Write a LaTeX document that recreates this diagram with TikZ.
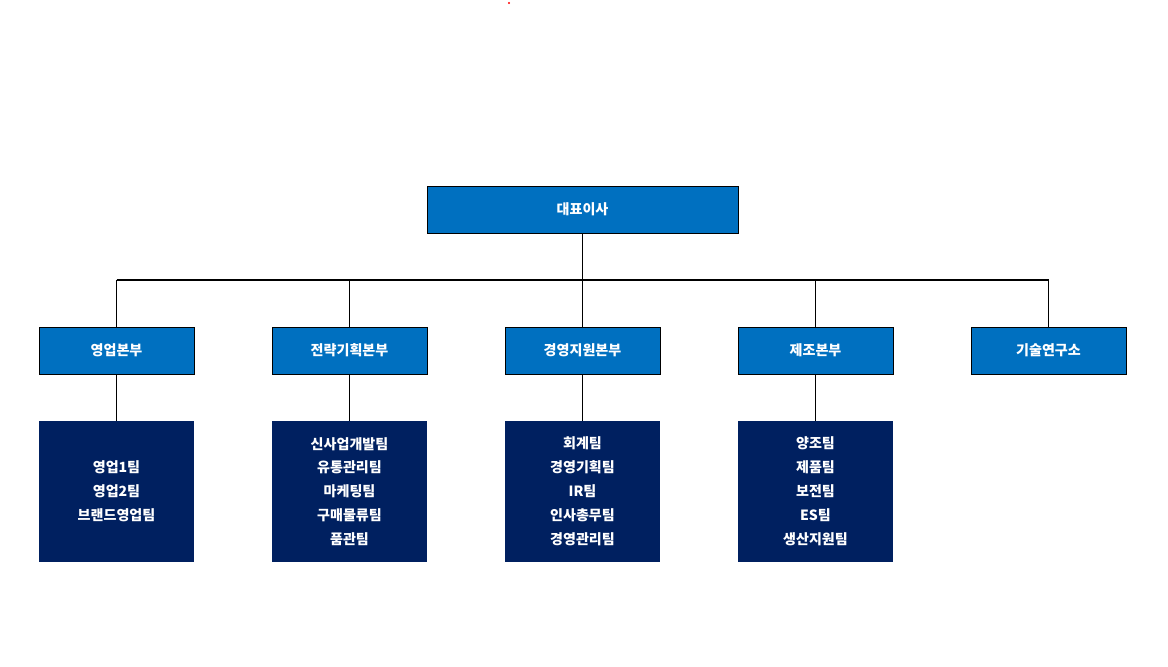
\documentclass[tikz,border=0pt]{standalone}
\usepackage{fontspec}
\newfontfamily\kor{Noto Sans CJK KR}
\definecolor{topblue}{HTML}{0070C0}
\definecolor{navy}{HTML}{002060}
\tikzset{
  head/.style={draw=black,fill=topblue,text=white,font=\kor\fontsize{8}{10}\selectfont\bfseries,
    minimum width=3.1cm,minimum height=0.94cm,inner sep=0pt},
  team/.style={fill=navy,text=white,font=\kor\fontsize{8}{13.6}\selectfont\bfseries,align=center,
    minimum width=3.1cm,minimum height=2.82cm,inner sep=0pt},
  link/.style={draw=black,line width=0.6pt}
}
\begin{document}
\begin{tikzpicture}[x=0.02cm,y=-0.02cm]
\useasboundingbox (0,0) rectangle (1168,666);
\fill[red] (509,3) circle[radius=1.2];

\node[head,minimum width=6.22cm] (ceo) at (582.5,209.5) {대표이사};

\node[head] (sales) at (116.5,350.5) {영업본부};
\node[head] (plan) at (349.5,350.5) {전략기획본부};
\node[head] (mgmt) at (582.5,350.5) {경영지원본부};
\node[head] (prod) at (815.5,350.5) {제조본부};
\node[head] (lab) at (1048.5,350.5) {기술연구소};

\node[team] (salesT) at (116.5,491.5) {영업1팀\\영업2팀\\브랜드영업팀};
\node[team] (planT) at (349.5,491.5) {신사업개발팀\\유통관리팀\\마케팅팀\\구매물류팀\\품관팀};
\node[team] (mgmtT) at (582.5,491.5) {회계팀\\경영기획팀\\IR팀\\인사총무팀\\경영관리팀};
\node[team] (prodT) at (815.5,491.5) {양조팀\\제품팀\\보전팀\\ES팀\\생산지원팀};

\coordinate (bus) at (582.5,280);
\draw[link] (ceo) -- (bus);
\foreach \d in {sales,plan,mgmt,prod,lab}{
  \draw[link] (\d.north) -- (\d.north |- bus);
}
\draw[link] (sales.north |- bus) -- (lab.north |- bus);
\foreach \d in {sales,plan,mgmt,prod}{
  \draw[link] (\d) -- (\d T);
}
\end{tikzpicture}
\end{document}
